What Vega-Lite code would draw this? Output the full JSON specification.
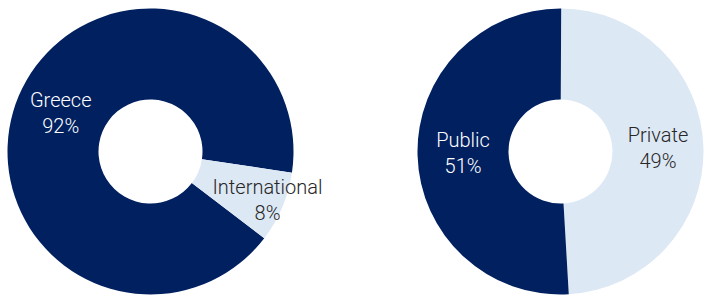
{
  "$schema": "https://vega.github.io/schema/vega-lite/v6.json",
  "background": "white",
  "padding": 0,
  "spacing": 116,
  "bounds": "flush",
  "config": {"view": {"stroke": null}, "text": {"font": "Roboto", "fontWeight": 300, "fontSize": 20}},
  "datasets": {
    "origin": [{"category": "Greece", "share": 0.92}, {"category": "International", "share": 0.08}],
    "sector": [{"category": "Private", "share": 0.49}, {"category": "Public", "share": 0.51}]
  },
  "hconcat": [
    {
      "width": 301, "height": 301,
      "data": {"name": "origin"},
      "encoding": {
        "theta": {"field": "share", "type": "quantitative", "stack": true, "scale": {"range": [2.222, 8.505]}},
        "order": {"field": "category", "sort": "ascending"}
      },
      "layer": [
        {
          "mark": {"type": "arc", "radius": 143, "radius2": 52},
          "encoding": {
            "color": {"field": "category", "type": "nominal", "scale": {"domain": ["Greece", "International"], "range": ["#002060", "#DDE8F5"]}, "legend": null}
          }
        },
        {
          "mark": {"type": "text", "dy": -13, "radius": 97.5, "fill": "white"},
          "encoding": {
            "detail": {"field": "category"},
            "text": {"field": "category"},
            "opacity": {"condition": {"test": "datum.category === 'Greece'", "value": 1}, "value": 0}
          }
        },
        {
          "mark": {"type": "text", "dy": 13, "radius": 97.5, "fill": "white"},
          "encoding": {
            "detail": {"field": "category"},
            "text": {"field": "share", "format": ".0%"},
            "opacity": {"condition": {"test": "datum.category === 'Greece'", "value": 1}, "value": 0}
          }
        },
        {
          "mark": {"type": "text", "dy": -13, "radius": 127, "fill": "#262626"},
          "encoding": {
            "detail": {"field": "category"},
            "text": {"field": "category"},
            "opacity": {"condition": {"test": "datum.category === 'International'", "value": 1}, "value": 0}
          }
        },
        {
          "mark": {"type": "text", "dy": 13, "radius": 127, "fill": "#262626"},
          "encoding": {
            "detail": {"field": "category"},
            "text": {"field": "share", "format": ".0%"},
            "opacity": {"condition": {"test": "datum.category === 'International'", "value": 1}, "value": 0}
          }
        }
      ]
    },
    {
      "spacing": 3,
      "bounds": "flush",
      "vconcat": [
        {
          "width": 287, "height": 1,
          "data": {"values": [{}]},
          "mark": {"type": "rule", "opacity": 0},
          "encoding": {}
        },
        {
          "width": 287, "height": 293,
          "data": {"name": "sector"},
          "encoding": {
            "theta": {"field": "share", "type": "quantitative", "stack": true, "scale": {"range": [0.005, 6.288]}},
            "order": {"field": "category", "sort": "ascending"}
          },
          "layer": [
            {
              "mark": {"type": "arc", "radius": 143, "radius2": 52},
              "encoding": {
                "color": {"field": "category", "type": "nominal", "scale": {"domain": ["Private", "Public"], "range": ["#DDE8F5", "#002060"]}, "legend": null}
              }
            },
            {
              "mark": {"type": "text", "dy": -13, "radius": 97.5},
              "encoding": {
                "detail": {"field": "category"},
                "text": {"field": "category"},
                "color": {"condition": {"test": "datum.category === 'Public'", "value": "white"}, "value": "#262626"}
              }
            },
            {
              "mark": {"type": "text", "dy": 13, "radius": 97.5},
              "encoding": {
                "detail": {"field": "category"},
                "text": {"field": "share", "format": ".0%"},
                "color": {"condition": {"test": "datum.category === 'Public'", "value": "white"}, "value": "#262626"}
              }
            }
          ]
        }
      ]
    }
  ],
  "resolve": {"scale": {"color": "independent", "theta": "independent"}}
}
